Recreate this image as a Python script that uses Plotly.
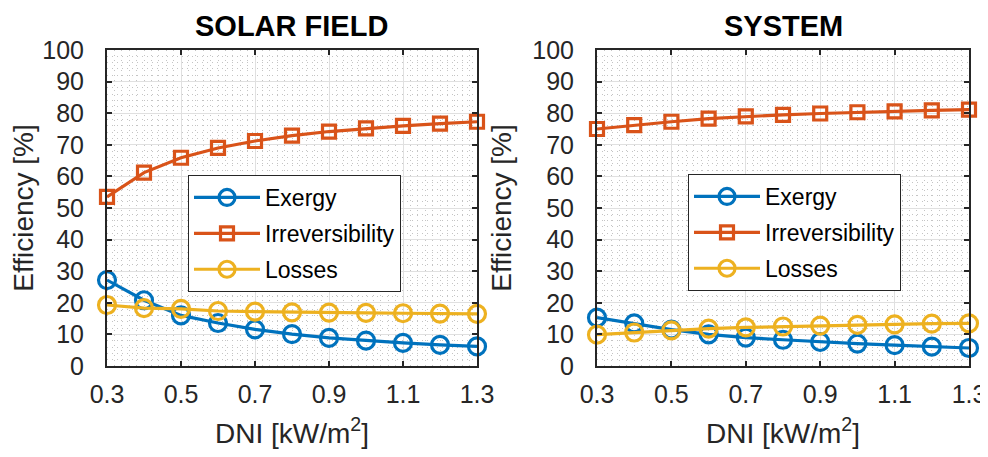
import plotly.graph_objects as go

dni = [0.3, 0.4, 0.5, 0.6, 0.7, 0.8, 0.9, 1.0, 1.1, 1.2, 1.3]

sf_exergy = [27.2, 20.8, 16.0, 13.6, 11.6, 10.1, 8.9, 8.0, 7.3, 6.7, 6.2]
sf_irrev = [53.5, 61.2, 65.9, 69.0, 71.2, 72.9, 74.2, 75.2, 76.0, 76.7, 77.3]
sf_losses = [19.3, 18.3, 18.1, 17.4, 17.2, 17.0, 16.9, 16.8, 16.7, 16.6, 16.5]

sys_exergy = [15.3, 13.5, 11.5, 10.0, 9.0, 8.3, 7.6, 7.1, 6.6, 6.1, 5.7]
sys_irrev = [75.0, 76.2, 77.3, 78.3, 79.0, 79.5, 79.9, 80.3, 80.6, 80.9, 81.1]
sys_losses = [9.9, 10.6, 11.3, 11.8, 12.2, 12.5, 12.8, 13.0, 13.2, 13.4, 13.5]

series_names = ["Exergy", "Irreversibility", "Losses"]
colors = ["#0072BD", "#D95319", "#EDB120"]
symbols = ["circle-open", "square-open", "circle-open"]
msizes = [17, 13, 17]

FONT = "Liberation Sans, Arial, sans-serif"
# page body has an 8px default margin, so the figure is offset by 8px
OFF = 8
W, H = 988 - OFF, 457 - 2 * OFF

def px_x(p):
    return (p - OFF) / W

def px_y(p):
    return 1 - (p - OFF) / H

fig = go.Figure()

panels = [
    ("x", "y", [sf_exergy, sf_irrev, sf_losses], "legend"),
    ("x2", "y2", [sys_exergy, sys_irrev, sys_losses], "legend2"),
]
for xa, ya, data, leg in panels:
    for name, vals, c, s, ms in zip(series_names, data, colors, symbols, msizes):
        fig.add_trace(go.Scatter(
            x=dni, y=vals, name=name, mode="lines+markers",
            xaxis=xa, yaxis=ya, legend=leg, legendgroup=leg + name,
            cliponaxis=False,
            line=dict(color=c, width=3.2),
            marker=dict(symbol=s, size=ms, color=c,
                        line=dict(color=c, width=3.2)),
        ))

ydom = [px_y(366), px_y(50)]
axis_common = dict(
    showline=True, linecolor="#262626", linewidth=2, mirror="ticks",
    ticks="inside", ticklen=5, tickcolor="#262626", tickwidth=1.5,
    showgrid=True, gridcolor="#e0e0e0", gridwidth=1,
    tickfont=dict(family=FONT, size=25, color="#262626"),
    zeroline=False, automargin=False, ticklabeloverflow="allow",
)
minor_common = dict(showgrid=True, gridcolor="#c4c4c4", griddash="1px,4px",
                    gridwidth=1, ticks="")
xcommon = dict(axis_common, range=[0.3, 1.3], tickvals=[0.3, 0.5, 0.7, 0.9, 1.1, 1.3],
               ticktext=["0.3", "0.5", "0.7", "0.9", "1.1", "1.3"],
               ticklabelstandoff=5,
               minor=dict(minor_common, dtick=0.02, tick0=0.3),
               title=dict(text="DNI [kW/m<sup>2</sup>]", standoff=18,
                          font=dict(family=FONT, size=28, color="#262626")))
ycommon = dict(axis_common, range=[0, 100], dtick=10, tick0=0,
               ticklabelstandoff=16,
               minor=dict(minor_common, dtick=2, tick0=0),
               title=dict(text="Efficiency [%]", standoff=12,
                          font=dict(family=FONT, size=28, color="#262626")))

legend_common = dict(xanchor="left", yanchor="top",
                     bgcolor="white", bordercolor="#262626", borderwidth=1,
                     font=dict(family=FONT, size=23, color="#000000"),
                     itemwidth=66, tracegroupgap=3)

fig.update_layout(
    width=W, height=H,
    margin=dict(l=0, r=0, t=0, b=0),
    paper_bgcolor="white", plot_bgcolor="white",
    xaxis=dict(xcommon, domain=[px_x(107), px_x(477)], anchor="y"),
    yaxis=dict(ycommon, domain=ydom, anchor="x"),
    xaxis2=dict(xcommon, domain=[px_x(597), px_x(969)], anchor="y2"),
    yaxis2=dict(ycommon, domain=ydom, anchor="x2"),
    showlegend=True,
    legend=dict(legend_common, x=px_x(188), y=px_y(175)),
    legend2=dict(legend_common, x=px_x(688), y=px_y(174)),
    annotations=[
        dict(text="<b>SOLAR FIELD</b>", x=px_x(291), y=px_y(26), xref="paper", yref="paper",
             xanchor="center", yanchor="middle",
             showarrow=False, font=dict(family=FONT, size=29, color="black")),
        dict(text="<b>SYSTEM</b>", x=px_x(783), y=px_y(26), xref="paper", yref="paper",
             xanchor="center", yanchor="middle",
             showarrow=False, font=dict(family=FONT, size=29, color="black")),
    ],
)

fig.write_html("out.html")
